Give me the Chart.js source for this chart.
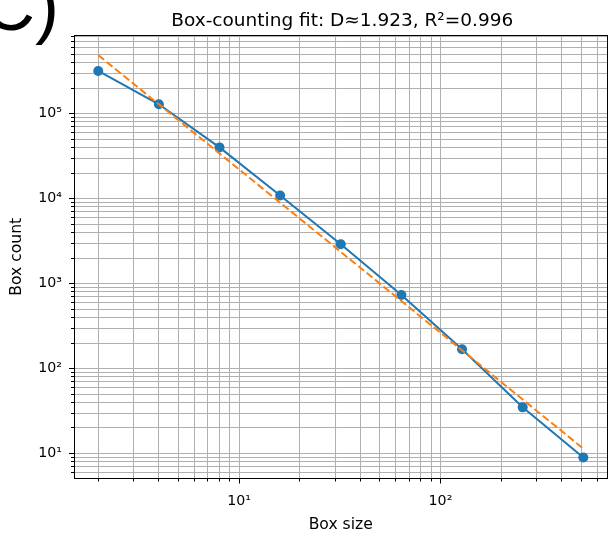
<!DOCTYPE html>
<html>
<head>
<meta charset="utf-8">
<script src="https://cdn.jsdelivr.net/npm/chart.js@4.4.1/dist/chart.umd.min.js"></script>
<style>
  html, body { margin: 0; padding: 0; background: #ffffff; }
  #wrap { position: relative; width: 609px; height: 541px; }
  canvas { display: block; }
</style>
</head>
<body>
<div id="wrap"><canvas id="chart" width="609" height="541"></canvas></div>
<script>
// Box-counting measurements (box size in pixels -> number of occupied boxes)
const boxSizes = [2, 4, 8, 16, 32, 64, 128, 256, 512];
const boxCounts = [318000, 129000, 40100, 10900, 2900, 735, 169, 35, 9];

// Power-law fit: log10(N) = fitLogIntercept - D * log10(s)
const fitDimension = 1.923;
const fitLogIntercept = 6.268;
const fitR2 = 0.996;

// Axis decades (minor ticks at 2..9 x decade) and view limits
const xDecades = [1, 10, 100];
const yDecades = [1, 10, 100, 1000, 10000, 100000];
const xLimits = [1.516, 675];
const yLimits = [5.09, 843000];

const panelLabel = 'C)';
const titleText = 'Box-counting fit: D\u2248' + fitDimension.toFixed(3) + ', R\u00b2=' + fitR2.toFixed(3);
const xAxisLabel = 'Box size';
const yAxisLabel = 'Box count';

const SUP = { '0': '\u2070', '1': '\u00b9', '2': '\u00b2', '3': '\u00b3', '4': '\u2074',
              '5': '\u2075', '6': '\u2076', '7': '\u2077', '8': '\u2078', '9': '\u2079', '-': '\u207b' };

function isPow10(v) {
  const e = Math.log10(v);
  return Math.abs(e - Math.round(e)) < 1e-9;
}
function powLabel(v) {
  const e = String(Math.round(Math.log10(v)));
  return '10' + e.split('').map(c => SUP[c]).join('');
}
function tickValues(decades, limits) {
  const out = [];
  decades.forEach(d => {
    for (let m = 1; m <= 9; m++) {
      const v = m * d;
      if (v >= limits[0] && v <= limits[1]) out.push(v);
    }
  });
  return out;
}
const xTicks = tickValues(xDecades, xLimits);
const yTicks = tickValues(yDecades, yLimits);

const measured = boxSizes.map((s, i) => ({ x: s, y: boxCounts[i] }));
const fitted = boxSizes.map(s => ({ x: s, y: Math.pow(10, fitLogIntercept - fitDimension * Math.log10(s)) }));

Chart.defaults.font.family = "'DejaVu Sans', sans-serif";
Chart.defaults.color = '#000000';

function alignPx(p) { return Math.round(p - 0.5) + 0.5; }

// Outer frame, tick marks, title and panel letter
const decorations = {
  id: 'decorations',
  afterDraw(chart) {
    const { ctx, chartArea: a, scales } = chart;
    ctx.save();
    ctx.strokeStyle = '#000000';
    ctx.lineWidth = 1;
    ctx.beginPath();
    scales.x.ticks.forEach(t => {
      const px = alignPx(scales.x.getPixelForValue(t.value));
      const len = isPow10(t.value) ? 5 : 3;
      ctx.moveTo(px, a.bottom);
      ctx.lineTo(px, a.bottom + len);
    });
    scales.y.ticks.forEach(t => {
      const py = alignPx(scales.y.getPixelForValue(t.value));
      const len = isPow10(t.value) ? 5 : 3;
      ctx.moveTo(a.left, py);
      ctx.lineTo(a.left - len, py);
    });
    const top = alignPx(a.top);
    const right = alignPx(a.right);
    ctx.moveTo(alignPx(a.left) - 0.5, top);
    ctx.lineTo(right + 0.5, top);
    ctx.moveTo(right, top);
    ctx.lineTo(right, alignPx(a.bottom));
    ctx.stroke();

    ctx.fillStyle = '#000000';
    ctx.textAlign = 'center';
    ctx.textBaseline = 'alphabetic';
    ctx.font = "18.5px 'DejaVu Sans', sans-serif";
    ctx.fillText(titleText, (a.left + a.right) / 2 + 1.5, 26);

    ctx.textAlign = 'left';
    ctx.font = "72px 'Liberation Sans', sans-serif";
    ctx.fillText(panelLabel, -17, 30);
    ctx.restore();
  }
};

new Chart(document.getElementById('chart'), {
  type: 'line',
  data: {
    datasets: [
      {
        label: 'fit',
        data: fitted,
        order: 0,
        borderColor: '#ff7f0e',
        borderWidth: 2,
        borderDash: [7.5, 3.3],
        pointRadius: 0,
        fill: false,
        tension: 0
      },
      {
        label: 'data',
        data: measured,
        order: 1,
        borderColor: '#1f77b4',
        backgroundColor: '#1f77b4',
        borderWidth: 2,
        pointRadius: 5,
        pointBorderWidth: 0,
        pointBackgroundColor: '#1f77b4',
        fill: false,
        tension: 0
      }
    ]
  },
  options: {
    responsive: false,
    maintainAspectRatio: false,
    animation: false,
    devicePixelRatio: 1,
    layout: { autoPadding: false, padding: { top: 35, right: 1.5, left: 0, bottom: 0 } },
    plugins: { legend: { display: false }, tooltip: { enabled: false }, title: { display: false } },
    scales: {
      x: {
        type: 'logarithmic',
        bounds: 'data',
        min: xLimits[0],
        max: xLimits[1],
        afterBuildTicks: s => { s.ticks = xTicks.map(v => ({ value: v })); },
        afterFit: s => { s.height = 62.5; s.paddingLeft = 0; s.paddingRight = 0; },
        ticks: {
          autoSkip: false,
          maxRotation: 0,
          padding: 14,
          color: '#000000',
          font: { size: 14.2 },
          callback: v => (isPow10(v) ? powLabel(v) : '')
        },
        grid: { color: '#b0b0b0', lineWidth: 1, drawTicks: false },
        border: { color: '#000000', width: 1 },
        title: {
          display: true,
          text: xAxisLabel,
          color: '#000000',
          font: { size: 15.6 },
          padding: { top: 0, bottom: 6.6 }
        }
      },
      y: {
        type: 'logarithmic',
        bounds: 'data',
        min: yLimits[0],
        max: yLimits[1],
        afterBuildTicks: s => { s.ticks = yTicks.map(v => ({ value: v })); },
        afterFit: s => { s.width = 74; s.paddingTop = 0; s.paddingBottom = 0; },
        ticks: {
          autoSkip: false,
          padding: 12,
          color: '#000000',
          font: { size: 14.2 },
          callback: v => (isPow10(v) ? powLabel(v) : '')
        },
        grid: { color: '#b0b0b0', lineWidth: 1, drawTicks: false },
        border: { color: '#000000', width: 1 },
        title: {
          display: true,
          text: yAxisLabel,
          color: '#000000',
          font: { size: 15.6 },
          padding: { top: 7.6, bottom: 0 }
        }
      }
    }
  },
  plugins: [decorations]
});
</script>
</body>
</html>
